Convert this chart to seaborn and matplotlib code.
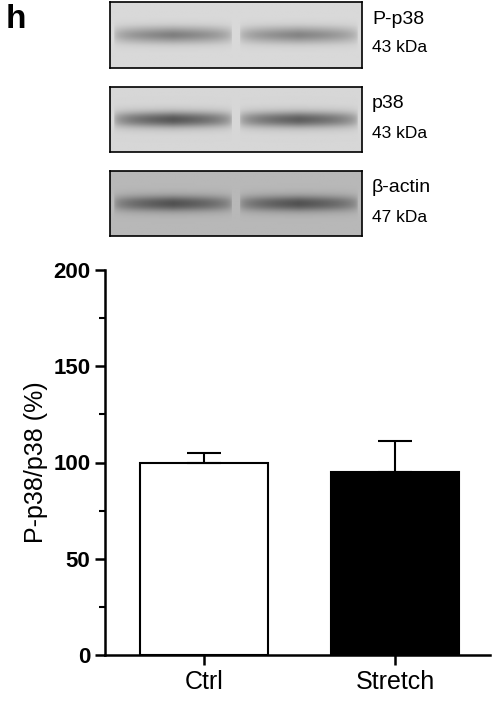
import numpy as np
import pandas as pd
import matplotlib
matplotlib.use("Agg")
import matplotlib.pyplot as plt
import seaborn as sns
from matplotlib.ticker import MultipleLocator

groups = ["Ctrl", "Stretch"]
means = [100, 95]
errs = [5, 16]
bar_colors = ["white", "black"]
blot_names = ["P-p38", "p38", "β-actin"]
blot_kda = ["43 kDa", "43 kDa", "47 kDa"]
band_strength = [[0.35, 0.33], [0.5, 0.47], [0.4, 0.4]]
blot_bg = [0.85, 0.84, 0.72]

sns.set_style("ticks")
plt.rcParams['font.family'] = ['Liberation Sans', 'DejaVu Sans']
for k in ["text.color", "axes.labelcolor", "xtick.color", "ytick.color", "axes.edgecolor"]:
    plt.rcParams[k] = "black"

fig = plt.figure(figsize=(4.95, 7.04), dpi=100)
W, H = 495, 704

rows = [(2, 68), (87, 152), (171, 236)]
for i, (y0, y1) in enumerate(rows):
    ax = fig.add_axes([110 / W, 1 - y1 / H, 252 / W, (y1 - y0) / H])
    h, w = 60, 250
    yy = np.linspace(-1, 1, h)[:, None]
    xx = np.linspace(0, 1, w)[None, :]
    img = np.full((h, w), blot_bg[i])
    for j, s in enumerate(band_strength[i]):
        cx = 0.25 + 0.5 * j
        prof = np.exp(-(yy / 0.25) ** 2) * np.clip(1 - np.abs(xx - cx) / 0.235, 0, 1) ** 0.3
        img = img - s * prof
    ax.imshow(img, cmap="gray", vmin=0, vmax=1, aspect="auto")
    ax.set_xticks([]); ax.set_yticks([])
    for sp in ax.spines.values():
        sp.set_linewidth(1.2); sp.set_color("black")
    fig.text(372 / W, 1 - (y0 + 17) / H, blot_names[i], fontsize=14, va="center")
    fig.text(372 / W, 1 - (y0 + 46) / H, blot_kda[i], fontsize=12.5, va="center")

fig.text(6 / W, 1 - 20 / H, "h", fontsize=24, fontweight="bold", va="center")

ax = fig.add_axes([105 / W, 1 - 655 / H, 385 / W, 385 / H])
df = pd.DataFrame({"group": groups, "value": means})
sns.barplot(data=df, x="group", y="value", hue="group", palette=bar_colors,
            width=0.67, edgecolor="black", linewidth=1.5, ax=ax, legend=False)
ax.errorbar(range(len(groups)), means, yerr=[[0, 0], errs], fmt="none",
            ecolor="black", elinewidth=1.5, capsize=12, capthick=1.5)
ax.set_xlim(-0.518, 1.497)
ax.set_ylim(0, 200)
ax.yaxis.set_major_locator(MultipleLocator(50))
ax.yaxis.set_minor_locator(MultipleLocator(25))
ax.set_xlabel("")
ax.set_ylabel("P-p38/p38 (%)", fontsize=18)
sns.despine(ax=ax)
for sp in ["left", "bottom"]:
    ax.spines[sp].set_linewidth(1.8)
ax.tick_params(axis="y", which="major", length=7, width=1.8, labelsize=16)
ax.tick_params(axis="y", which="minor", length=4, width=1.5)
ax.tick_params(axis="x", length=7, width=1.8, labelsize=18)
for t in ax.get_yticklabels():
    t.set_fontweight("bold")

fig.savefig("out.png", dpi=100)
